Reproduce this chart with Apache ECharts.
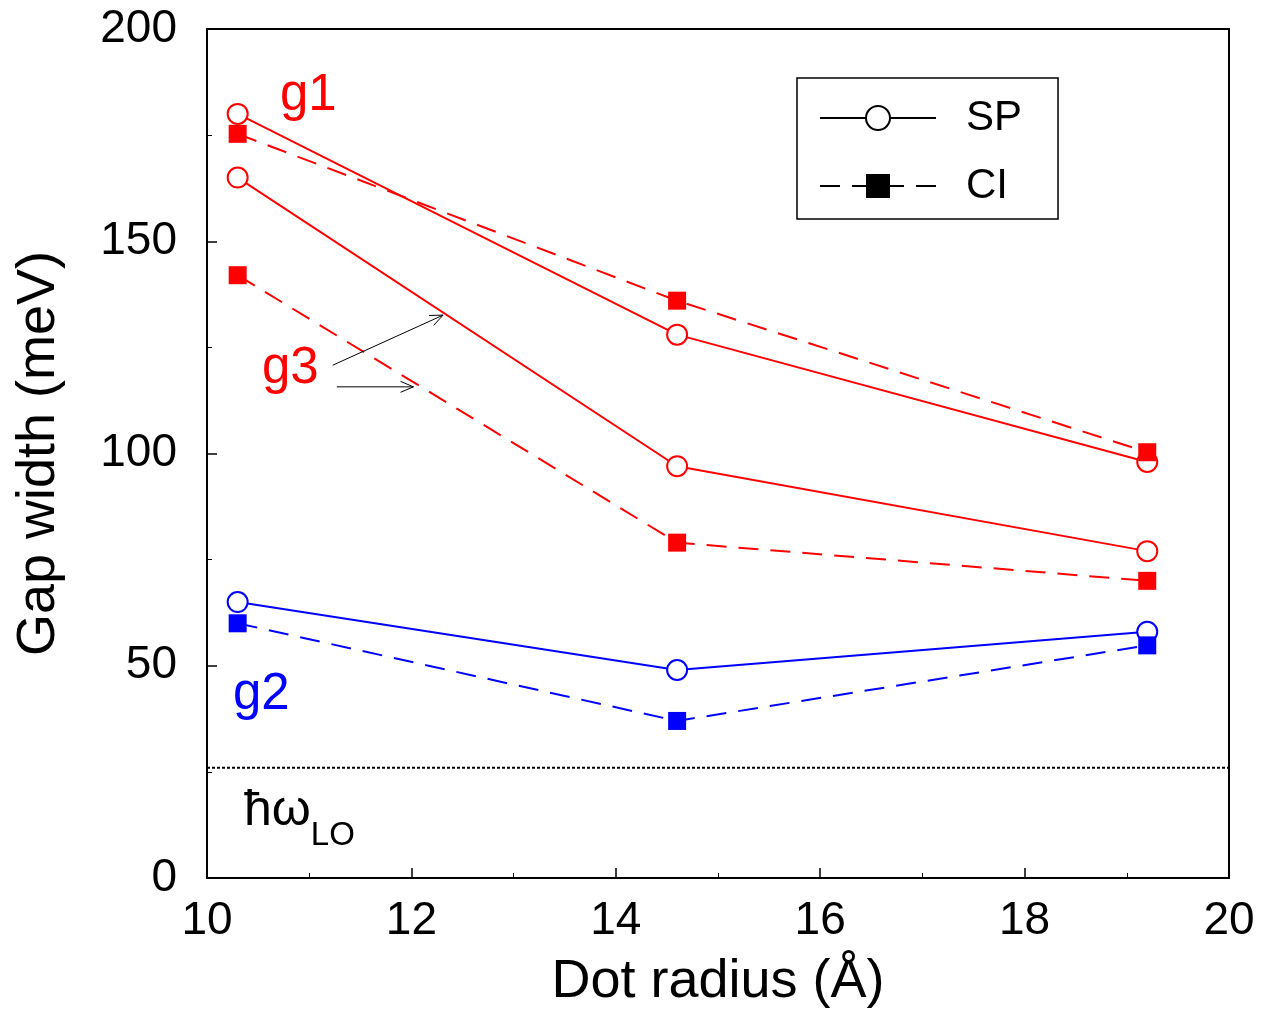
<!DOCTYPE html>
<html><head><meta charset="utf-8">
<script src="https://cdn.jsdelivr.net/npm/echarts@6/dist/echarts.min.js"></script>
<style>html,body{margin:0;padding:0;background:#fff}#c{width:1271px;height:1014px}</style>
</head><body><div id="c"></div>
<script>
const radius = [10.3, 14.6, 19.2];
const g1SP = [180, 128, 98];
const g1CI = [175.3, 136, 100.3];
const g3SP = [165, 97, 77];
const g3CI = [142, 79, 70];
const g2SP = [65, 49, 58];
const g2CI = [60, 37, 54.8];
const hwLO = 26;
const arrows = [[11.23, 120.8, 12.31, 132.6], [11.27, 115.7, 12.02, 115.7]];
const xTicks = [10, 12, 14, 16, 18, 20];
const yTicks = [0, 50, 100, 150, 200];

const pair = a => a.map((v, i) => [radius[i], v]);
const FONT = 'Liberation Sans, Arial, sans-serif';

function sp(name, data, color) {
  return {name: name, type: 'line', data: pair(data), symbol: 'circle', symbolSize: 20,
    lineStyle: {color: color, width: 2, type: 'solid'},
    itemStyle: {color: '#fff', borderColor: color, borderWidth: 2}, z: 3};
}
function ci(name, data, color) {
  return {name: name, type: 'line', data: pair(data), symbol: 'rect', symbolSize: 18,
    lineStyle: {color: color, width: 2, type: [20, 12]},
    itemStyle: {color: color, borderWidth: 0}, z: 3};
}

const chart = echarts.init(document.getElementById('c'));
chart.setOption({
  animation: false,
  grid: {left: 207, right: 42, top: 29, bottom: 136, show: true, borderColor: '#000', borderWidth: 2,
    containLabel: false, outerBoundsMode: 'none'},
  legend: {
    data: ['SP', 'CI'], orient: 'vertical', left: 797, top: 78,
    padding: [19, 36, 12, 22], itemGap: 26, itemWidth: 116, itemHeight: 30,
    borderColor: '#000', borderWidth: 1.5, backgroundColor: '#fff',
    textStyle: {fontSize: 42, fontFamily: FONT, color: '#000', padding: [0, 0, 0, 25]}
  },
  xAxis: {
    type: 'value', min: 10, max: 20, interval: 2,
    axisLine: {show: false},
    axisTick: {inside: true, length: 10, lineStyle: {color: '#000', width: 1.5}},
    minorTick: {show: true, splitNumber: 2, length: 5, lineStyle: {color: '#000', width: 1}},
    splitLine: {show: false},
    axisLabel: {fontSize: 46, color: '#000', fontFamily: FONT, margin: 20,
      formatter: v => xTicks.includes(v) ? String(v) : ''},
    name: 'Dot radius (Å)', nameLocation: 'middle', nameGap: 77,
    nameTextStyle: {fontSize: 54, color: '#000', fontFamily: FONT}
  },
  yAxis: {
    type: 'value', min: 0, max: 200, interval: 50,
    axisLine: {show: false},
    axisTick: {inside: true, length: 10, lineStyle: {color: '#000', width: 1.5}},
    minorTick: {show: true, splitNumber: 2, length: 5, lineStyle: {color: '#000', width: 1}},
    splitLine: {show: false},
    axisLabel: {fontSize: 46, color: '#000', fontFamily: FONT, margin: 30,
      formatter: v => yTicks.includes(v) ? String(v) : ''},
    name: 'Gap width (meV)', nameLocation: 'middle', nameGap: 141, nameRotate: 90,
    nameTextStyle: {fontSize: 54, color: '#000', fontFamily: FONT}
  },
  series: [
    {name: 'SP', type: 'line', data: [], symbol: 'circle', symbolSize: 24,
      lineStyle: {color: '#000', width: 2}, itemStyle: {color: '#fff', borderColor: '#000', borderWidth: 2}},
    {name: 'CI', type: 'line', data: [], symbol: 'rect', symbolSize: 28,
      lineStyle: {color: '#000', width: 2, type: [20, 12]}, itemStyle: {color: '#000'}},
    sp('g1 SP', g1SP, '#ff0000'),
    ci('g1 CI', g1CI, '#ff0000'),
    sp('g3 SP', g3SP, '#ff0000'),
    ci('g3 CI', g3CI, '#ff0000'),
    sp('g2 SP', g2SP, '#0000ff'),
    ci('g2 CI', g2CI, '#0000ff'),
    {name: 'hw', type: 'line', data: [[10, hwLO], [20, hwLO]], symbol: 'none',
      lineStyle: {color: '#000', width: 2, type: [3, 2]}, z: 2},
    {name: 'arrows', type: 'custom', data: arrows, z: 4,
      renderItem: function (params, api) {
        const p1 = api.coord([api.value(0), api.value(1)]);
        const p2 = api.coord([api.value(2), api.value(3)]);
        const ang = Math.atan2(p2[1] - p1[1], p2[0] - p1[0]);
        const L = 14, w = 0.4;
        const a1 = [p2[0] - L * Math.cos(ang - w), p2[1] - L * Math.sin(ang - w)];
        const a2 = [p2[0] - L * Math.cos(ang + w), p2[1] - L * Math.sin(ang + w)];
        return {type: 'group', children: [
          {type: 'line', shape: {x1: p1[0], y1: p1[1], x2: p2[0], y2: p2[1]}, style: {stroke: '#000', lineWidth: 1}},
          {type: 'polyline', shape: {points: [a1, p2, a2]}, style: {stroke: '#000', lineWidth: 1, fill: null}}
        ]};
      }}
  ],
  graphic: [
    {type: 'text', left: 280, top: 70, style: {text: 'g1', fontSize: 51, fill: '#ff0000', fontFamily: FONT}},
    {type: 'text', left: 262, top: 343, style: {text: 'g3', fontSize: 51, fill: '#ff0000', fontFamily: FONT}},
    {type: 'text', left: 233, top: 669, style: {text: 'g2', fontSize: 51, fill: '#0000ff', fontFamily: FONT}},
    {type: 'text', left: 244, top: 786, style: {
      text: '{a|ħω}{b|LO}',
      rich: {a: {fontSize: 50, fill: '#000', fontFamily: FONT, verticalAlign: 'bottom'},
             b: {fontSize: 33, fill: '#000', fontFamily: FONT, verticalAlign: 'bottom', padding: [0, 0, -16, 0]}}
    }}
  ]
});
</script></body></html>
